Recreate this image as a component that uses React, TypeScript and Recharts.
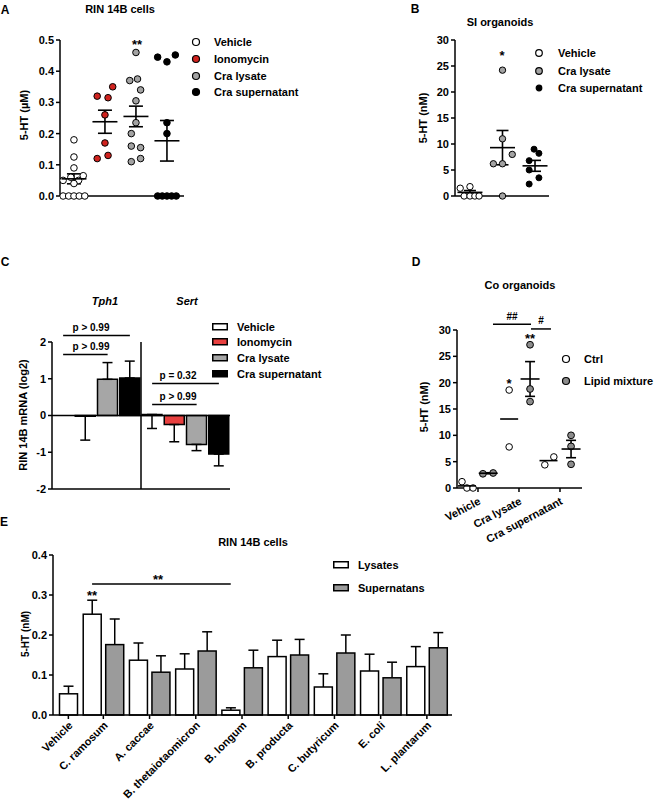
import React from "react";
import {
  ScatterChart,
  Scatter,
  BarChart,
  Bar,
  Cell,
  XAxis,
  YAxis,
  ErrorBar,
  ReferenceLine,
} from "recharts";

const FONT = "'Liberation Sans', Arial, Helvetica, sans-serif";
const INK = "#000";

// ---------- A: RIN 14B cells, 5-HT (µM), one dot per well
const groupsA = ["Vehicle", "Ionomycin", "Cra lysate", "Cra supernatant"];
const colorsA = ["#ffffff", "#d0231f", "#a3a3a3", "#000000"];
const valuesA = [
  [0.18, 0.125, 0.09, 0.065, 0.06, 0.05, 0.05, 0.04, 0, 0, 0, 0, 0],
  [0.35, 0.32, 0.315, 0.26, 0.17, 0.13, 0.12],
  [0.46, 0.375, 0.37, 0.34, 0.305, 0.235, 0.2, 0.16, 0.155, 0.12, 0.11],
  [0.452, 0.445, 0.43, 0.235, 0.2, 0, 0, 0, 0, 0],
];
const jitterA = [
  [0, 0, 0, 0.3, -0.1, -0.35, 0.15, 0, -0.35, -0.17, 0, 0.17, 0.35],
  [0.25, -0.25, 0.1, 0, 0, 0.1, -0.25],
  [0, 0.05, -0.2, 0.15, 0, 0, -0.15, -0.15, 0.15, 0.15, -0.15],
  [0.27, -0.3, 0, 0, 0, -0.3, -0.15, 0, 0.15, 0.3],
];
const meanA = [0.055, 0.238, 0.255, 0.177];
const semA = [0.016, 0.037, 0.033, 0.065];

// ---------- B: SI organoids, 5-HT (nM)
const groupsB = ["Vehicle", "Cra lysate", "Cra supernatant"];
const colorsB = ["#ffffff", "#a3a3a3", "#000000"];
const valuesB = [
  [1.5, 1.8, 0, 0, 0, 0],
  [24.2, 11, 8, 6.2, 6.2, 0],
  [9, 8.2, 6.8, 5, 3.5, 2.3],
];
const jitterB = [
  [-0.3, 0, -0.18, 0, 0.15, 0.28],
  [0, 0, 0.3, -0.28, 0, 0],
  [-0.03, 0.12, -0.18, -0.18, 0.12, -0.18],
];
const meanB = [0.7, 9.3, 5.8];
const semB = [0.35, 3.3, 1.05];

// ---------- C: RIN 14B mRNA (log2), one bar per gene x treatment
const genesC = ["Tph1", "Sert"];
const treatC = ["Vehicle", "Ionomycin", "Cra lysate", "Cra supernatant"];
const fillsC = ["#ffffff", "#e8403f", "#a6a6a6", "#000000"];
const tph1C = [0, -0.02, 0.985, 1.02];
const sertC = [0.027, -0.245, -0.786, -1.05];
// [below, above] error per bar
const tph1ErrC = [[0, 0.58], [0.65, 0], [0, 0.455], [0, 0.46]];
const sertErrC = [[0.38, 0], [0.47, 0], [0.17, 0], [0.32, 0]];

// ---------- D: Co organoids, 5-HT (nM)
const groupsD = ["Vehicle", "Cra lysate", "Cra supernatant"];
const ctrlD = [[1.2, 0, 0], [18.6, 7.8], [4.4, 5.9]];
const ctrlJitterD = [[-0.39, -0.27, -0.12], [-0.24, -0.24], [-0.37, -0.15]];
const lipidD = [[2.7, 2.85], [27.2, 18.8, 16.4], [10, 7.9, 4.5]];
const lipidJitterD = [[0.12, 0.37], [0.27, 0.27, 0.27], [0.27, 0.27, 0.27]];
const ctrlMeanD = [0.4, 13.1, 5.2];
const lipidMeanD = [2.8, 20.7, 7.4];
const lipidSemD = [0.1, 3.3, 1.65];

// ---------- E: RIN 14B cells, lysates vs supernatants
const strainsE = [
  "Vehicle", "C. ramosum", "A. caccae", "B. thetaiotaomicron", "B. longum",
  "B. producta", "C. butyricum", "E. coli", "L. plantarum",
];
const lysatesE = [0.053, 0.252, 0.137, 0.115, 0.012, 0.146, 0.07, 0.11, 0.121];
const lysatesSemE = [0.019, 0.035, 0.043, 0.038, 0.006, 0.041, 0.033, 0.042, 0.05];
const supernatansE = [null, 0.176, 0.107, 0.16, 0.118, 0.15, 0.155, 0.093, 0.168];
const supernatansSemE = [null, 0.064, 0.041, 0.048, 0.044, 0.039, 0.045, 0.039, 0.038];

const axisLine = { stroke: INK, strokeWidth: 1.5 };
const tickLine = { stroke: INK, strokeWidth: 1.5 };
const tickFont = { fill: INK, fontSize: 11, fontWeight: 700, fontFamily: FONT };

const pts = (vals: number[], jit: number[], g: number) => vals.map((y, i) => ({ x: g + jit[i], y }));

const dot = (fill: string, r = 3.2) => (p: any) =>
  p.cx == null ? null : <circle cx={p.cx} cy={p.cy} r={r} fill={fill} stroke={INK} strokeWidth={1} />;

const meanTick = (w: number) => (p: any) =>
  p.cx == null ? null : (
    <line x1={p.cx - w / 2} x2={p.cx + w / 2} y1={p.cy} y2={p.cy} stroke={INK} strokeWidth={1.6} />
  );

function Txt({ x, y, children, size = 11, anchor = "middle", rotate = 0, italic = false }: any) {
  const tx = anchor === "start" ? "0" : "-50%";
  return (
    <div
      style={{
        position: "absolute",
        left: x,
        top: y,
        transform: `translate(${tx}, -50%) rotate(${rotate}deg)`,
        fontFamily: FONT,
        fontWeight: 700,
        fontSize: size,
        fontStyle: italic ? "italic" : "normal",
        lineHeight: 1,
        whiteSpace: "nowrap",
        color: INK,
      }}
    >
      {children}
    </div>
  );
}

function DotKey({ x, y, fill, r = 3.5 }: any) {
  return (
    <svg style={{ position: "absolute", left: x - 6, top: y - 6 }} width={12} height={12}>
      <circle cx={6} cy={6} r={r} fill={fill} stroke={INK} strokeWidth={1.2} />
    </svg>
  );
}

function BoxKey({ x, y, fill }: any) {
  return (
    <svg style={{ position: "absolute", left: x, top: y - 4 }} width={16} height={8}>
      <rect x={0.75} y={0.75} width={14.5} height={6} fill={fill} stroke={INK} strokeWidth={1.5} />
    </svg>
  );
}

const TickD = (p: any) => {
  const ax = p.x + 2;
  const ay = p.y + 7;
  return (
    <text x={ax} y={ay} transform={`rotate(-28 ${ax} ${ay})`} textAnchor="end" dominantBaseline="middle" {...tickFont}>
      {groupsD[p.payload.value]}
    </text>
  );
};

// E bars: width and gap, used to put the lone Vehicle bar (and its tick) in the second slot
const BAR_E = 18;
const GAP_E = 4.5;
const SLOT_E = (BAR_E + GAP_E) / 2;

const TickE = (p: any) => {
  const single = p.payload.value === strainsE[0];
  const tx = p.x + (single ? SLOT_E : 0);
  const ax = tx + 3;
  const ay = p.y + 3;
  return (
    <g>
      <line x1={tx} x2={tx} y1={p.y - 6} y2={p.y - 2} stroke={INK} strokeWidth={1.5} />
      <text x={ax} y={ay} transform={`rotate(-45 ${ax} ${ay})`} textAnchor="end" dominantBaseline="middle" {...tickFont}>
        {p.payload.value}
      </text>
    </g>
  );
};

const barWithErr = (valKey: string, errKey: string, fill: string) => (p: any) => {
  const v = p.payload?.[valKey];
  if (v == null || p.height == null) return null;
  const single = p.payload.supernatans == null;
  const x = single ? p.x + p.width + GAP_E : p.x;
  const k = v !== 0 ? p.height / v : 0;
  const yErr = p.y - p.payload[errKey] * k;
  const cx = x + p.width / 2;
  return (
    <g>
      <line x1={cx} x2={cx} y1={p.y} y2={yErr} stroke={INK} strokeWidth={1.5} />
      <line x1={cx - 5} x2={cx + 5} y1={yErr} y2={yErr} stroke={INK} strokeWidth={1.5} />
      <rect x={x} y={p.y} width={p.width} height={p.height} fill={fill} stroke={INK} strokeWidth={1.5} />
    </g>
  );
};

// bracket drawn between the lysate bars of two strains
const lysateBracket = (p: any) => (
  <line x1={p.x1 - SLOT_E} x2={p.x2 - SLOT_E} y1={p.y1} y2={p.y2} stroke={INK} strokeWidth={1.5} />
);

export default function App() {
  const meansA = meanA.map((m, i) => ({ x: i, y: m, sem: semA[i] }));
  const meansB = meanB.map((m, i) => ({ x: i, y: m, sem: semB[i] }));

  const valsC = [tph1C, sertC];
  const errC = [tph1ErrC, sertErrC];
  const dataC = genesC.flatMap((gene, g) =>
    treatC.map((t, j) => ({ id: `${gene} ${t}`, value: valsC[g][j], err: errC[g][j], fill: fillsC[j] }))
  );
  const idC = (g: number, j: number) => `${genesC[g]} ${treatC[j]}`;

  const ctrlPts = ctrlD.flatMap((v, g) => pts(v, ctrlJitterD[g], g));
  const lipidPts = lipidD.flatMap((v, g) => pts(v, lipidJitterD[g], g));
  const ctrlMeans = ctrlMeanD.map((m, g) => ({ x: g + [-0.27, -0.24, -0.28][g], y: m }));
  const lipidMeans = lipidMeanD.map((m, g) => ({ x: g + [0.25, 0.27, 0.27][g], y: m, sem: lipidSemD[g] }));

  const dataE = strainsE.map((name, i) => ({
    name,
    lysates: lysatesE[i],
    lysatesSem: lysatesSemE[i],
    supernatans: supernatansE[i],
    supernatansSem: supernatansSemE[i],
  }));

  const cLine = (a: string, b: string, y: number) => (
    <ReferenceLine segment={[{ x: a, y }, { x: b, y }]} ifOverflow="visible" stroke={INK} strokeWidth={1.5} />
  );

  return (
    <div style={{ position: "absolute", left: 0, top: 0, width: 657, height: 812, background: "#fff", overflow: "hidden" }}>
      {/* A */}
      <div style={{ position: "absolute", left: 0, top: 0 }}>
        <ScatterChart width={330} height={230} margin={{ top: 40, right: 146, bottom: 33, left: 20 }}>
          <XAxis type="number" dataKey="x" domain={[-0.45, 3.55]} tick={false} tickLine={false} axisLine={axisLine} height={1} allowDataOverflow />
          <YAxis
            type="number"
            dataKey="y"
            domain={[0, 0.5]}
            ticks={[0, 0.1, 0.2, 0.3, 0.4, 0.5]}
            tickFormatter={(v: number) => v.toFixed(1)}
            width={40}
            tick={tickFont}
            tickLine={tickLine}
            tickSize={4}
            axisLine={axisLine}
          />
          {groupsA.map((g, i) => (
            <Scatter key={g} name={g} data={pts(valuesA[i], jitterA[i], i)} shape={dot(colorsA[i], 3.3)} isAnimationActive={false} />
          ))}
          <Scatter data={meansA} shape={meanTick(25)} isAnimationActive={false}>
            <ErrorBar dataKey="sem" direction="y" width={7} stroke={INK} strokeWidth={1.6} />
          </Scatter>
        </ScatterChart>
      </div>

      {/* B */}
      <div style={{ position: "absolute", left: 380, top: 0 }}>
        <ScatterChart width={200} height={230} margin={{ top: 40, right: 31, bottom: 33, left: 35 }}>
          <XAxis type="number" dataKey="x" domain={[-0.46, 2.43]} tick={false} tickLine={false} axisLine={axisLine} height={1} allowDataOverflow />
          <YAxis
            type="number"
            dataKey="y"
            domain={[0, 30]}
            ticks={[0, 5, 10, 15, 20, 25, 30]}
            width={40}
            tick={tickFont}
            tickLine={tickLine}
            tickSize={4}
            axisLine={axisLine}
          />
          {groupsB.map((g, i) => (
            <Scatter key={g} name={g} data={pts(valuesB[i], jitterB[i], i)} shape={dot(colorsB[i], i === 2 ? 3 : 3.2)} isAnimationActive={false} />
          ))}
          <Scatter data={meansB} shape={meanTick(25)} isAnimationActive={false}>
            <ErrorBar dataKey="sem" direction="y" width={6} stroke={INK} strokeWidth={1.6} />
          </Scatter>
        </ScatterChart>
      </div>

      {/* C */}
      <div style={{ position: "absolute", left: 0, top: 290 }}>
        <BarChart width={380} height={220} data={dataC} margin={{ top: 52, right: 150, bottom: 20, left: 12 }} barSize={20}>
          <XAxis dataKey="id" tick={false} tickLine={false} axisLine={axisLine} height={1} />
          <YAxis
            domain={[-2, 2]}
            ticks={[-2, -1, 0, 1, 2]}
            width={40}
            tick={tickFont}
            tickLine={tickLine}
            tickSize={4}
            axisLine={axisLine}
          />
          <ReferenceLine y={0} stroke={INK} strokeWidth={1.5} />
          <ReferenceLine x={idC(1, 0)} position="start" stroke={INK} strokeWidth={1.5} />
          <Bar dataKey="value" stroke={INK} strokeWidth={1.5} isAnimationActive={false}>
            {dataC.map((d) => (
              <Cell key={d.id} fill={d.fill} />
            ))}
            <ErrorBar dataKey="err" width={5} stroke={INK} strokeWidth={1.5} />
          </Bar>
          {cLine(idC(0, 0), idC(0, 3), 2.18)}
          {cLine(idC(0, 0), idC(0, 2), 1.66)}
          {cLine(idC(1, 0), idC(1, 3), 0.87)}
          {cLine(idC(1, 0), idC(1, 2), 0.3)}
        </BarChart>
      </div>

      {/* D */}
      <div style={{ position: "absolute", left: 380, top: 290 }}>
        <ScatterChart width={277} height={280} margin={{ top: 40, right: 75, bottom: 2, left: 37 }}>
          <XAxis
            type="number"
            dataKey="x"
            domain={[-0.512, 2.537]}
            ticks={[0, 1, 2]}
            tick={TickD}
            tickLine={tickLine}
            tickSize={4}
            axisLine={axisLine}
            height={80}
            allowDataOverflow
          />
          <YAxis
            type="number"
            dataKey="y"
            domain={[0, 30]}
            ticks={[0, 5, 10, 15, 20, 25, 30]}
            width={40}
            tick={tickFont}
            tickLine={tickLine}
            tickSize={4}
            axisLine={axisLine}
          />
          <Scatter name="Ctrl" data={ctrlPts} shape={dot("#ffffff", 3.3)} isAnimationActive={false} />
          <Scatter name="Lipid mixture" data={lipidPts} shape={dot("#8c8c8c", 3.4)} isAnimationActive={false} />
          <Scatter data={ctrlMeans} shape={meanTick(18)} isAnimationActive={false} />
          <Scatter data={lipidMeans} shape={meanTick(19)} isAnimationActive={false}>
            <ErrorBar dataKey="sem" direction="y" width={5} stroke={INK} strokeWidth={1.6} />
          </Scatter>
          <ReferenceLine segment={[{ x: 0.366, y: 31.1 }, { x: 1.293, y: 31.1 }]} ifOverflow="visible" stroke={INK} strokeWidth={1.5} />
          <ReferenceLine segment={[{ x: 1.293, y: 30.2 }, { x: 1.78, y: 30.2 }]} ifOverflow="visible" stroke={INK} strokeWidth={1.5} />
        </ScatterChart>
      </div>

      {/* E */}
      <div style={{ position: "absolute", left: 0, top: 540 }}>
        <BarChart width={470} height={272} data={dataE} margin={{ top: 15, right: 18, bottom: 0, left: 13 }} barSize={BAR_E} barGap={GAP_E}>
          <XAxis
            dataKey="name"
            interval={0}
            padding={{ left: -19, right: 2 }}
            height={97}
            tick={TickE}
            tickLine={false}
            tickSize={4}
            tickMargin={2}
            axisLine={axisLine}
          />
          <YAxis
            domain={[0, 0.4]}
            ticks={[0, 0.1, 0.2, 0.3, 0.4]}
            tickFormatter={(v: number) => v.toFixed(1)}
            width={40}
            tick={tickFont}
            tickLine={tickLine}
            tickSize={4}
            axisLine={axisLine}
          />
          <Bar dataKey="lysates" name="Lysates" fill="#ffffff" shape={barWithErr("lysates", "lysatesSem", "#ffffff")} isAnimationActive={false} />
          <Bar dataKey="supernatans" name="Supernatans" fill="#9b9b9b" shape={barWithErr("supernatans", "supernatansSem", "#9b9b9b")} isAnimationActive={false} />
          <ReferenceLine
            segment={[{ x: strainsE[1], y: 0.3275 }, { x: strainsE[4], y: 0.3275 }]}
            ifOverflow="visible"
            shape={lysateBracket}
          />
        </BarChart>
      </div>

      {/* panel letters */}
      <Txt x={5} y={10} size={12}>A</Txt>
      <Txt x={415} y={9} size={12}>B</Txt>
      <Txt x={5} y={262} size={12}>C</Txt>
      <Txt x={416} y={262} size={12}>D</Txt>
      <Txt x={4} y={522} size={12}>E</Txt>

      {/* titles */}
      <Txt x={120} y={9}>RIN 14B cells</Txt>
      <Txt x={500} y={22}>SI organoids</Txt>
      <Txt x={520} y={285}>Co organoids</Txt>
      <Txt x={253} y={542}>RIN 14B cells</Txt>
      <Txt x={105} y={301} italic>Tph1</Txt>
      <Txt x={187} y={301} italic>Sert</Txt>

      {/* y labels */}
      <Txt x={24} y={115} rotate={-90}>5-HT (µM)</Txt>
      <Txt x={423} y={118} rotate={-90}>5-HT (nM)</Txt>
      <Txt x={23} y={415} rotate={-90}>RIN 14B mRNA (log2)</Txt>
      <Txt x={424} y={407} rotate={-90}>5-HT (nM)</Txt>
      <Txt x={26} y={634} rotate={-90} size={10}>5-HT (nM)</Txt>

      {/* legends */}
      {groupsA.map((g, i) => (
        <React.Fragment key={g}>
          <DotKey x={196} y={[42, 59, 76, 92][i]} fill={colorsA[i]} />
          <Txt x={214} y={[42, 59, 76, 92][i]} anchor="start">{g}</Txt>
        </React.Fragment>
      ))}
      {groupsB.map((g, i) => (
        <React.Fragment key={g}>
          <DotKey x={539} y={[53, 71, 88][i]} fill={colorsB[i]} r={i === 2 ? 2.8 : 3.3} />
          <Txt x={558} y={[53, 71, 88][i]} anchor="start">{g}</Txt>
        </React.Fragment>
      ))}
      {treatC.map((g, i) => (
        <React.Fragment key={g}>
          <BoxKey x={212} y={[327, 342, 358, 374][i]} fill={fillsC[i]} />
          <Txt x={237} y={[327, 342, 358, 374][i]} anchor="start">{g}</Txt>
        </React.Fragment>
      ))}
      <DotKey x={566} y={359} fill="#ffffff" />
      <Txt x={584} y={359} anchor="start">Ctrl</Txt>
      <DotKey x={566} y={381} fill="#8c8c8c" />
      <Txt x={584} y={381} anchor="start">Lipid mixture</Txt>
      <BoxKey x={333} y={565} fill="#ffffff" />
      <Txt x={358} y={565} anchor="start">Lysates</Txt>
      <BoxKey x={333} y={588} fill="#9b9b9b" />
      <Txt x={358} y={588} anchor="start">Supernatans</Txt>

      {/* significance marks */}
      <Txt x={137} y={44} size={13}>**</Txt>
      <Txt x={502} y={55} size={13}>*</Txt>
      <Txt x={91} y={328} size={10}>p &gt; 0.99</Txt>
      <Txt x={91} y={347} size={10}>p &gt; 0.99</Txt>
      <Txt x={178} y={376} size={10}>p = 0.32</Txt>
      <Txt x={178} y={397} size={10}>p &gt; 0.99</Txt>
      <Txt x={509} y={383} size={13}>*</Txt>
      <Txt x={530} y={338} size={13}>**</Txt>
      <Txt x={512} y={317} size={10}>##</Txt>
      <Txt x={541} y={321} size={10}>#</Txt>
      <Txt x={158} y={579} size={13}>**</Txt>
      <Txt x={92} y={595} size={13}>**</Txt>
    </div>
  );
}
